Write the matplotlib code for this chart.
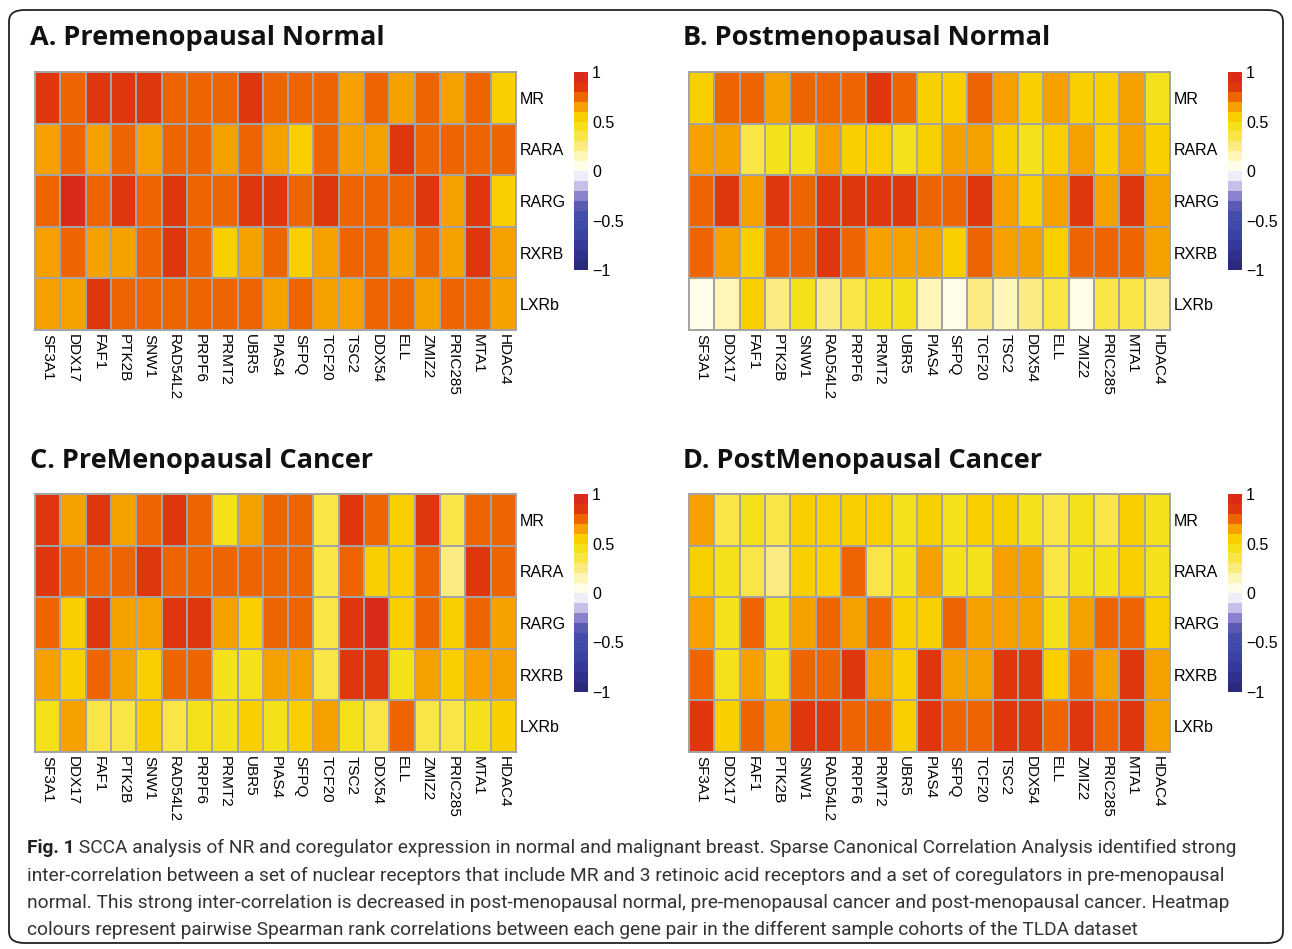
import numpy as np
import matplotlib
matplotlib.use("Agg")
import matplotlib.pyplot as plt
from matplotlib.colors import ListedColormap, BoundaryNorm
from matplotlib.colorbar import ColorbarBase
from matplotlib.patches import FancyBboxPatch

W, H = 1292, 949

coregs = ["SF3A1", "DDX17", "FAF1", "PTK2B", "SNW1", "RAD54L2", "PRPF6", "PRMT2",
          "UBR5", "PIAS4", "SFPQ", "TCF20", "TSC2", "DDX54", "ELL", "ZMIZ2",
          "PRIC285", "MTA1", "HDAC4"]
receptors = ["MR", "RARA", "RARG", "RXRB", "LXRb"]

pre_normal = [
    [.85, .75, .85, .85, .85, .75, .75, .75, .85, .75, .75, .75, .65, .75, .65, .75, .65, .75, .55],
    [.65, .75, .65, .75, .65, .75, .75, .65, .75, .65, .55, .75, .65, .65, .85, .75, .75, .75, .75],
    [.75, .95, .75, .85, .75, .85, .75, .75, .85, .85, .75, .85, .75, .75, .75, .85, .65, .85, .55],
    [.65, .75, .65, .65, .75, .85, .75, .55, .65, .75, .55, .65, .75, .75, .65, .75, .65, .85, .65],
    [.65, .65, .85, .75, .75, .75, .75, .75, .75, .65, .75, .65, .65, .75, .75, .65, .75, .75, .65],
]
post_normal = [
    [.55, .75, .75, .65, .75, .75, .75, .85, .75, .55, .55, .75, .65, .55, .65, .55, .55, .65, .45],
    [.65, .65, .35, .45, .45, .65, .55, .55, .45, .55, .65, .65, .55, .45, .55, .65, .55, .65, .55],
    [.75, .85, .65, .85, .75, .85, .85, .85, .85, .75, .75, .85, .65, .55, .65, .85, .65, .85, .65],
    [.75, .65, .55, .75, .75, .85, .75, .65, .65, .65, .55, .75, .65, .65, .55, .75, .75, .75, .65],
    [.05, .15, .55, .25, .45, .25, .35, .45, .45, .15, .05, .25, .15, .25, .35, .05, .35, .35, .25],
]
pre_cancer = [
    [.85, .65, .85, .65, .75, .85, .75, .45, .65, .75, .75, .35, .85, .75, .55, .85, .35, .75, .75],
    [.85, .75, .75, .75, .85, .75, .75, .75, .75, .75, .75, .35, .75, .55, .55, .75, .25, .85, .75],
    [.75, .55, .85, .65, .65, .85, .85, .65, .55, .75, .75, .35, .85, .95, .55, .75, .55, .75, .65],
    [.65, .55, .75, .65, .55, .75, .75, .45, .45, .65, .65, .35, .85, .85, .45, .65, .55, .65, .65],
    [.45, .65, .35, .35, .55, .35, .45, .45, .55, .45, .55, .65, .45, .35, .75, .35, .35, .45, .55],
]
post_cancer = [
    [.65, .35, .45, .35, .55, .55, .55, .55, .45, .55, .45, .55, .55, .45, .35, .45, .35, .55, .45],
    [.55, .45, .35, .25, .55, .55, .75, .35, .45, .65, .45, .45, .65, .65, .35, .45, .45, .55, .45],
    [.65, .45, .75, .45, .65, .75, .65, .75, .55, .55, .75, .65, .65, .65, .45, .65, .75, .75, .55],
    [.75, .45, .65, .45, .75, .75, .85, .65, .55, .85, .65, .65, .85, .85, .55, .75, .65, .85, .65],
    [.85, .55, .75, .65, .85, .85, .75, .75, .55, .85, .75, .75, .85, .85, .75, .85, .75, .85, .65],
]

titles = ["A. Premenopausal Normal", "B. Postmenopausal Normal",
          "C. PreMenopausal Cancer", "D. PostMenopausal Cancer"]

caption_bold = "Fig. 1"
caption = [
    " SCCA analysis of NR and coregulator expression in normal and malignant breast. Sparse Canonical Correlation Analysis identified strong",
    "inter-correlation between a set of nuclear receptors that include MR and 3 retinoic acid receptors and a set of coregulators in pre-menopausal",
    "normal. This strong inter-correlation is decreased in post-menopausal normal, pre-menopausal cancer and post-menopausal cancer. Heatmap",
    "colours represent pairwise Spearman rank correlations between each gene pair in the different sample cohorts of the TLDA dataset",
]

# discrete palette, 20 bins from -1 to 1
colors = ["#2B2A7C", "#30308E", "#36389A", "#3A42A2", "#3F4AA8", "#444EAA", "#5A5AB2",
          "#8A82CC", "#C6BFE8", "#EEEDF8",
          "#FFFDE8", "#FEF5B8", "#FCEB80", "#FAE547", "#F5E11A", "#F9CF00",
          "#F7A100", "#EE6400", "#E0360E", "#DC2A1A"]
cmap = ListedColormap(colors)
bounds = np.linspace(-1, 1, 21)
norm = BoundaryNorm(bounds, cmap.N)

label_font = ["Liberation Sans", "DejaVu Sans"]


def px_axes(fig, x0, y0, x1, y1):
    return fig.add_axes([x0 / W, 1 - y1 / H, (x1 - x0) / W, (y1 - y0) / H])


fig = plt.figure(figsize=(W / 100, H / 100), dpi=100)

# rounded frame
frame = FancyBboxPatch((9 / W, 6 / H), (W - 18) / W, (H - 16) / H,
                       boxstyle="round,pad=0,rounding_size=0.012",
                       transform=fig.transFigure, fill=False,
                       edgecolor="#222222", linewidth=1.3)
fig.patches.append(frame)

panels = [pre_normal, post_normal, pre_cancer, post_cancer]
origins = [(35, 72), (689, 72), (35, 494), (689, 494)]
title_pos = [(30, 38), (683, 38), (30, 461), (683, 461)]

for data, (x0, y0), title, (tx, ty) in zip(panels, origins, titles, title_pos):
    ax = px_axes(fig, x0, y0, x0 + 481, y0 + 258)
    ax.pcolormesh(np.array(data), cmap=cmap, norm=norm,
                  edgecolors="#A3A3A3", linewidth=1.4)
    ax.set_xlim(0, len(coregs))
    ax.set_ylim(len(receptors), 0)
    for s in ax.spines.values():
        s.set_edgecolor("#A3A3A3")
        s.set_linewidth(1.4)
    ax.set_xticks(np.arange(len(coregs)) + 0.5)
    ax.set_xticklabels(coregs, rotation=270, fontsize=11, family=label_font,
                       va="top", ha="center")
    ax.set_yticks(np.arange(len(receptors)) + 0.5)
    ax.set_yticklabels(receptors, fontsize=11.5, family=label_font)
    ax.yaxis.tick_right()
    ax.tick_params(length=0, pad=3)

    cax = px_axes(fig, x0 + 539, y0, x0 + 553, y0 + 198)
    cb = ColorbarBase(cax, cmap=cmap, norm=norm, boundaries=bounds,
                      ticks=[-1, -0.5, 0, 0.5, 1], orientation="vertical")
    cb.outline.set_visible(False)
    cb.set_ticklabels(["\u22121", "\u22120.5", "0", "0.5", "1"])
    cax.minorticks_off()
    cax.tick_params(which="both", length=0, pad=3, labelsize=11.5)
    for t in cax.get_yticklabels():
        t.set_family(label_font)

    fig.text(tx / W, 1 - ty / H, title, fontsize=19.5, fontweight="bold",
             family=["Open Sans", "DejaVu Sans"], color="#111111",
             va="center", ha="left")

# caption, sized so the first line runs from x=27 to x=1247
cap_font = ["Roboto", "DejaVu Sans"]
line_y = [848, 876, 903, 930]
renderer = fig.canvas.get_renderer()
base = 14.0
tb = fig.text(27 / W, 1 - line_y[0] / H, caption_bold, fontsize=base,
              fontweight="bold", family=cap_font, color="#222222", va="center")
t1 = fig.text(0, 0, caption[0], fontsize=base, family=cap_font)
w_total = (tb.get_window_extent(renderer=renderer).width
           + t1.get_window_extent(renderer=renderer).width)
t1.remove()
size = base * 1220 / w_total
tb.set_fontsize(size)
bb = tb.get_window_extent(renderer=renderer)
fig.text(bb.x1 / W, 1 - line_y[0] / H, caption[0], fontsize=size,
         family=cap_font, color="#333333", va="center")
for line, yy in zip(caption[1:], line_y[1:]):
    fig.text(27 / W, 1 - yy / H, line, fontsize=size, family=cap_font,
             color="#333333", va="center")

fig.savefig("out.png", dpi=100)
